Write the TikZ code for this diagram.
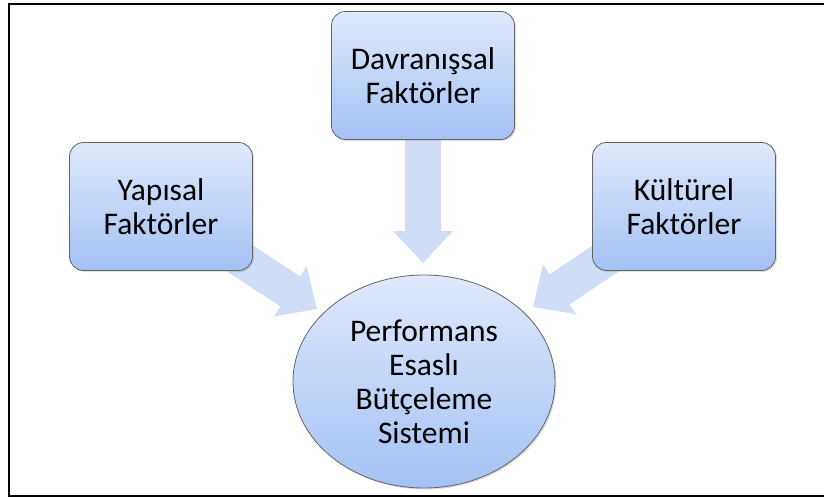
\documentclass[tikz,border=0pt]{standalone}
\usepackage{fontspec}
\setmainfont{Carlito}
\usetikzlibrary{calc,shadows,shapes.geometric}
\pgfdeclarelayer{background}
\pgfsetlayers{background,main}
\definecolor{boxtop}{RGB}{224,233,251}
\definecolor{boxbot}{RGB}{163,194,245}
\definecolor{arrowc}{RGB}{208,221,246}
\definecolor{edgec}{RGB}{100,100,100}
\newcommand\blockarr[2]{%
  \path[arrowfill] let \p1=(#1), \p2=(#2),
    \n1={atan2(\y2-\y1,\x2-\x1)}, \n2={veclen(\x2-\x1,\y2-\y1)} in
    [shift={(\p2)}, rotate=\n1]
    (0,0) -- (-32,30) -- (-32,18) -- (-\n2,18) -- (-\n2,-18) -- (-32,-18) -- (-32,-30) -- cycle;}
\tikzset{
  factor/.style={draw=edgec, line width=0.8pt, rounded corners=14pt,
    top color=boxtop, bottom color=boxbot,
    minimum width=183pt, minimum height=128pt, inner sep=0pt,
    align=center, text=black, font=\fontsize{31.5}{34}\selectfont,
    drop shadow={opacity=0.25, shadow xshift=1.5pt, shadow yshift=-1.5pt}},
  goal/.style={ellipse, draw=edgec, line width=0.8pt,
    top color=boxtop, bottom color=boxbot,
    minimum width=262pt, minimum height=213pt, inner sep=0pt,
    align=center, text=black, font=\fontsize{31.5}{34}\selectfont,
    drop shadow={opacity=0.25, shadow xshift=1.5pt, shadow yshift=-1.5pt}},
  arrowfill/.style={fill=arrowc, draw=none},
  frameline/.style={draw=black, line width=2pt}
}
\begin{document}
\begin{tikzpicture}[x=1pt, y=-1pt]
  \useasboundingbox (0,0) rectangle (824,497);
  \draw[frameline] (824,4.3) -- (9,4.3) -- (9,495.5) -- (824,495.5);

  \node[factor] (ya) at (161,206.5) {Yapısal\\Faktörler};
  \node[factor] (da) at (423,75.5) {Davranışsal\\Faktörler};
  \node[factor] (ku) at (684,206.5) {Kültürel\\Faktörler};
  \node[goal] (pe) at (424,381.5) {Performans\\Esaslı\\Bütçeleme\\Sistemi};

  \coordinate (tipL) at (317,309);
  \coordinate (tipD) at (423,263);
  \coordinate (tipR) at (533,307);

  \begin{pgfonlayer}{background}
    \blockarr{ya}{tipL}
    \blockarr{da}{tipD}
    \blockarr{ku}{tipR}
  \end{pgfonlayer}
\end{tikzpicture}
\end{document}
